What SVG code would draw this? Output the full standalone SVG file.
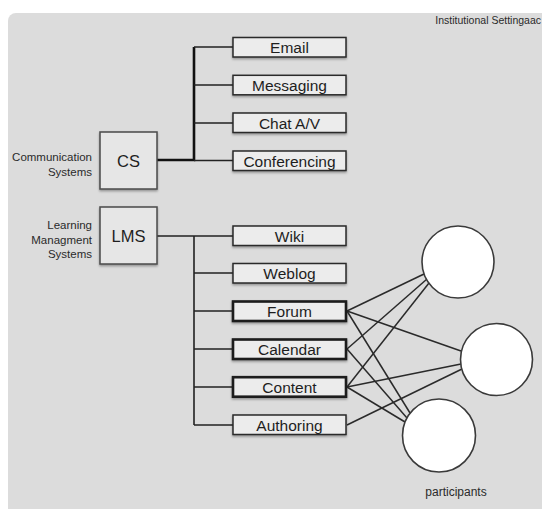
<svg xmlns="http://www.w3.org/2000/svg" width="542" height="509" viewBox="0 0 542 509">
  <defs>
    <filter id="shadow" x="-10%" y="-30%" width="120%" height="180%">
      <feDropShadow dx="0" dy="1.5" stdDeviation="1" flood-color="#000" flood-opacity="0.35"/>
    </filter>
    <style>
      .panel { fill: #dcdcdc; }
      .item { fill: #ececec; stroke: #2a2a2a; stroke-width: 1.5; filter: url(#shadow); }
      .item.strong { stroke-width: 2.6; stroke: #1a1a1a; }
      .sys { fill: #e6e6e6; stroke: #4a4a4a; stroke-width: 1.5; filter: url(#shadow); }
      .label { font-family: "Liberation Sans", Arial, sans-serif; font-size: 15.5px; fill: #1e1e1e; text-anchor: middle; }
      .sysLabel { font-family: "Liberation Sans", Arial, sans-serif; font-size: 16.5px; fill: #1e1e1e; text-anchor: middle; }
      .note { font-family: "Liberation Sans", Arial, sans-serif; font-size: 11.5px; fill: #2a2a2a; text-anchor: end; }
      .small { font-family: "Liberation Sans", Arial, sans-serif; font-size: 10.5px; fill: #2a2a2a; }
      .caption { font-family: "Liberation Sans", Arial, sans-serif; font-size: 12px; fill: #2a2a2a; text-anchor: middle; }
      .tree { fill: none; stroke: #222; stroke-width: 1.6; }
      .trunk { fill: none; stroke: #111; stroke-width: 2.6; }
      .link { stroke: #2a2a2a; stroke-width: 1.5; }
      .person { fill: #ffffff; stroke: #3a3a3a; stroke-width: 1.6; }
    </style>
  </defs>

  <!-- backdrop -->
  <rect class="panel" x="8" y="13" width="560" height="520" rx="8"/>
  <text class="small" x="541" y="24" text-anchor="end">Institutional Settingaac</text>

  <!-- tree connectors and participant links -->
  <g id="connectors">
    <!-- CS branch -->
    <path class="trunk" d="M157 160 H194 V47"/>
    <path class="tree" d="M194 47 H233 M194 85 H233 M194 123 H233 M194 160.5 H233"/>
    <!-- LMS branch -->
    <path class="tree" d="M157 236 H194 V425 M194 236 H233 M194 273 H233 M194 311 H233 M194 349 H233 M194 387 H233 M194 425 H233"/>
    <!-- tools to participants -->
    <line class="link" x1="347" y1="311" x2="424" y2="274"/>
    <line class="link" x1="347" y1="311" x2="461" y2="351"/>
    <line class="link" x1="347" y1="311" x2="410" y2="413"/>
    <line class="link" x1="347" y1="349" x2="427" y2="279"/>
    <line class="link" x1="347" y1="349" x2="407" y2="418"/>
    <line class="link" x1="347" y1="387" x2="429" y2="283"/>
    <line class="link" x1="347" y1="387" x2="461" y2="364"/>
    <line class="link" x1="347" y1="387" x2="405" y2="422"/>
    <line class="link" x1="347" y1="425" x2="462" y2="369"/>
  </g>

  <!-- system nodes -->
  <g id="cs">
    <rect class="sys" x="100" y="132" width="57" height="57"/>
    <text class="sysLabel" x="128.5" y="166.5">CS</text>
    <text class="note" x="92" y="161">Communication</text>
    <text class="note" x="92" y="176">Systems</text>
  </g>
  <g id="lms">
    <rect class="sys" x="100" y="207" width="57" height="57"/>
    <text class="sysLabel" x="128.5" y="241.5">LMS</text>
    <text class="note" x="92" y="229">Learning</text>
    <text class="note" x="92" y="243.5">Managment</text>
    <text class="note" x="92" y="258">Systems</text>
  </g>

  <!-- communication tools -->
  <g id="email"><rect class="item" x="233" y="37.5" width="113" height="19.5"/><text class="label" x="289.5" y="53">Email</text></g>
  <g id="messaging"><rect class="item" x="233" y="75.3" width="113" height="19.5"/><text class="label" x="289.5" y="90.8">Messaging</text></g>
  <g id="chat"><rect class="item" x="233" y="113" width="113" height="19.5"/><text class="label" x="289.5" y="128.5">Chat A/V</text></g>
  <g id="conferencing"><rect class="item" x="233" y="151" width="113" height="19.5"/><text class="label" x="289.5" y="166.5">Conferencing</text></g>

  <!-- learning tools -->
  <g id="wiki"><rect class="item" x="233" y="226" width="113" height="19.5"/><text class="label" x="289.5" y="241.5">Wiki</text></g>
  <g id="weblog"><rect class="item" x="233" y="263.5" width="113" height="19.5"/><text class="label" x="289.5" y="279">Weblog</text></g>
  <g id="forum"><rect class="item strong" x="233" y="301.5" width="113" height="19.5"/><text class="label" x="289.5" y="317">Forum</text></g>
  <g id="calendar"><rect class="item strong" x="233" y="339.5" width="113" height="19.5"/><text class="label" x="289.5" y="355">Calendar</text></g>
  <g id="content"><rect class="item strong" x="233" y="377.2" width="113" height="19.5"/><text class="label" x="289.5" y="392.7">Content</text></g>
  <g id="authoring"><rect class="item" x="233" y="415" width="113" height="19.5"/><text class="label" x="289.5" y="430.5">Authoring</text></g>

  <!-- participants -->
  <g id="participant-1"><circle class="person" cx="458" cy="262" r="36"/></g>
  <g id="participant-2"><circle class="person" cx="496.5" cy="359.5" r="36"/></g>
  <g id="participant-3"><circle class="person" cx="439" cy="435.5" r="36.5"/></g>
  <text class="caption" x="456" y="496">participants</text>
</svg>
